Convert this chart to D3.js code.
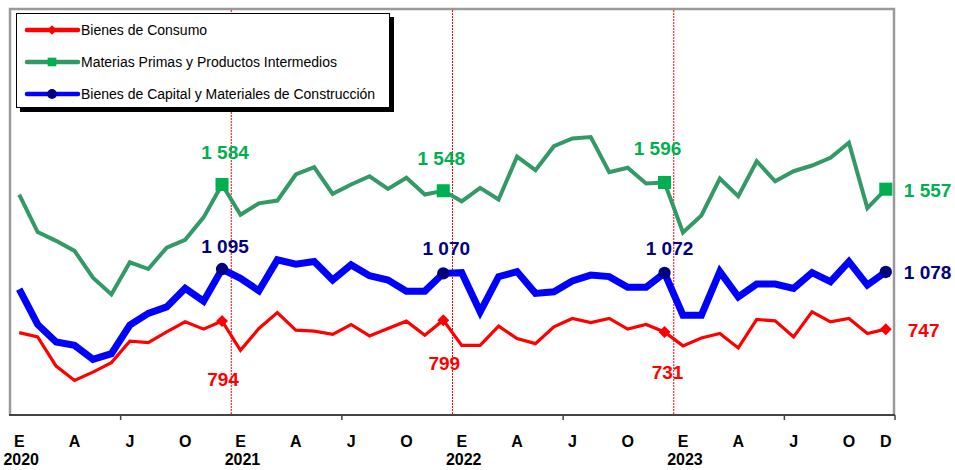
<!DOCTYPE html>
<html>
<head>
<meta charset="utf-8">
<script src="https://cdn.jsdelivr.net/npm/d3@7"></script>
<style>
  body { margin: 0; background: #fff; }
  svg { font-family: Arial, "Liberation Sans", sans-serif; }
</style>
</head>
<body>
<svg id="chart" width="955" height="470"></svg>
<script>
// monthly series, Jan 2020 .. Dec 2023 (48 months)
const consumo = [
  727, 702, 533, 450, 498, 553, 677, 669, 731, 789, 747, 794,
  624, 751, 843, 741, 735, 717, 774, 708, 751, 793, 712, 799,
  653, 653, 764, 692, 663, 760, 809, 785, 809, 747, 774, 731,
  650, 696, 722, 638, 803, 795, 702, 847, 789, 809, 722, 747
];
const materias = [
  1525, 1309, 1258, 1200, 1045, 948, 1134, 1095, 1219, 1264, 1394, 1584,
  1409, 1475, 1491, 1642, 1684, 1530, 1584, 1632, 1559, 1623, 1526, 1548,
  1487, 1565, 1497, 1745, 1667, 1806, 1851, 1859, 1655, 1681, 1590, 1596,
  1306, 1405, 1619, 1516, 1719, 1603, 1661, 1694, 1739, 1826, 1448, 1557
];
const capital = [
  979, 774, 673, 653, 572, 605, 770, 838, 876, 983, 909, 1095,
  1041, 969, 1148, 1123, 1138, 1031, 1119, 1056, 1031, 967, 967, 1070,
  1074, 847, 1051, 1080, 954, 963, 1026, 1060, 1051, 989, 989, 1072,
  828, 828, 1080, 934, 1008, 1008, 983, 1074, 1022, 1138, 1002, 1078
];
const seriesNames = [
  'Bienes de Consumo',
  'Materias Primas y Productos Intermedios',
  'Bienes de Capital y Materiales de Construcción'
];
const monthLetters = ['E', 'A', 'J', 'O'];   // every 3 months
const years = ['2020', '2021', '2022', '2023'];
const lastLetter = 'D';

const svg = d3.select('#chart');
const plotL = 10, plotR = 895, plotT = 9, plotB = 415;
const n = consumo.length;

const x = d3.scaleLinear().domain([-0.5, n - 0.5]).range([plotL, plotR]);
const y = d3.scaleLinear().domain([250, 2600]).range([plotB, plotT]);

const fmt = d3.formatLocale({ decimal: ',', thousands: ' ', grouping: [3], currency: ['', ''] }).format(',d');

// plot frame (gray)
svg.append('path')
  .attr('d', `M${plotL},${plotB} V${plotT} H${plotR - 1} V${plotB}`)
  .attr('fill', 'none').attr('stroke', '#9a9a9a').attr('stroke-width', 2.5);

// year separators
for (let k = 1; k < years.length; k++) {
  svg.append('line')
    .attr('x1', x(k * 12 - 0.5)).attr('x2', x(k * 12 - 0.5))
    .attr('y1', plotT + 1).attr('y2', plotB)
    .attr('stroke', '#ff0000').attr('stroke-width', 1)
    .attr('stroke-dasharray', '2,1');
}

// bottom axis
svg.append('line')
  .attr('x1', plotL - 1).attr('x2', plotR).attr('y1', plotB).attr('y2', plotB)
  .attr('stroke', '#444').attr('stroke-width', 2);
d3.range(5.5, n, 12).concat([n - 0.5]).forEach(t => {
  svg.append('line')
    .attr('x1', x(t)).attr('x2', x(t)).attr('y1', plotB).attr('y2', plotB + 5)
    .attr('stroke', '#444').attr('stroke-width', 1.5);
});

// x labels
const axisG = svg.append('g')
  .attr('font-weight', 'bold').attr('font-size', 16).attr('text-anchor', 'middle').attr('fill', '#000');
years.forEach((yr, k) => {
  monthLetters.forEach((m, j) => {
    axisG.append('text').attr('x', x(k * 12 + j * 3)).attr('y', 447).text(m);
  });
  axisG.append('text').attr('x', x(k * 12) + 2).attr('y', 465).text(yr);
});
axisG.append('text').attr('x', x(n - 1)).attr('y', 447).text(lastLetter);

// lines
const line = d3.line().x((d, i) => x(i)).y(d => y(d));
const styles = [
  { data: consumo, stroke: '#ff0000', width: 3.2, marker: '#ff0000', shape: d3.symbolSquare, size: 72, rot: 45, label: '#ff0000' },
  { data: materias, stroke: '#339966', width: 4, marker: '#00b050', shape: d3.symbolSquare, size: 170, rot: 0, label: '#00b050' },
  { data: capital, stroke: '#0000ff', width: 7, marker: '#000080', shape: d3.symbolCircle, size: 120, rot: 0, label: '#000080' }
];

// draw order: green, blue, red on top
[1, 2, 0].forEach(s => {
  const st = styles[s];
  svg.append('path').datum(st.data)
    .attr('d', line)
    .attr('fill', 'none')
    .attr('stroke', st.stroke)
    .attr('stroke-width', st.width)
    .attr('stroke-linejoin', 'miter');
});

// december markers and labels
const decIdx = d3.range(11, n, 12);
const labelOffsets = {
  0: [[1, 58], [1, 43], [3, 41]],
  1: [[3, -32], [-2, -32], [-7, -34]],
  2: [[3, -23], [3, -25], [5, -24]]
};
[1, 2, 0].forEach(s => {
  const st = styles[s];
  const sym = d3.symbol().type(st.shape).size(st.size);
  decIdx.forEach((i, k) => {
    const v = st.data[i];
    svg.append('path')
      .attr('d', sym)
      .attr('transform', `translate(${x(i)},${y(v)}) rotate(${st.rot})`)
      .attr('fill', st.marker);
    const t = svg.append('text')
      .attr('font-weight', 'bold').attr('font-size', 19)
      .attr('fill', st.label)
      .attr('dominant-baseline', 'central')
      .text(fmt(v));
    if (k < decIdx.length - 1) {
      const [dx, dy] = labelOffsets[s][k];
      t.attr('x', x(i) + dx).attr('y', y(v) + dy).attr('text-anchor', 'middle');
    } else {
      t.attr('x', x(i) + (s === 0 ? 22 : 18)).attr('y', y(v) + 1).attr('text-anchor', 'start');
    }
  });
});

// legend
const lg = svg.append('g');
lg.append('rect').attr('x', 20).attr('y', 17).attr('width', 374).attr('height', 95).attr('fill', '#000');
lg.append('rect').attr('x', 16.5).attr('y', 13.5).attr('width', 373).attr('height', 94)
  .attr('fill', '#fff').attr('stroke', '#000').attr('stroke-width', 1);
styles.forEach((st, k) => {
  const ly = 30 + k * 32;
  lg.append('line').attr('x1', 27).attr('x2', 78).attr('y1', ly).attr('y2', ly)
    .attr('stroke', st.stroke).attr('stroke-width', 4.5).attr('stroke-linecap', 'round');
  lg.append('path')
    .attr('d', d3.symbol().type(st.shape).size(k === 0 ? 45 : 75))
    .attr('transform', `translate(52,${ly}) rotate(${st.rot})`)
    .attr('fill', st.marker);
  lg.append('text').attr('x', 81).attr('y', ly).attr('dominant-baseline', 'central')
    .attr('font-size', 14).attr('fill', '#000').text(seriesNames[k]);
});
</script>
</body>
</html>
